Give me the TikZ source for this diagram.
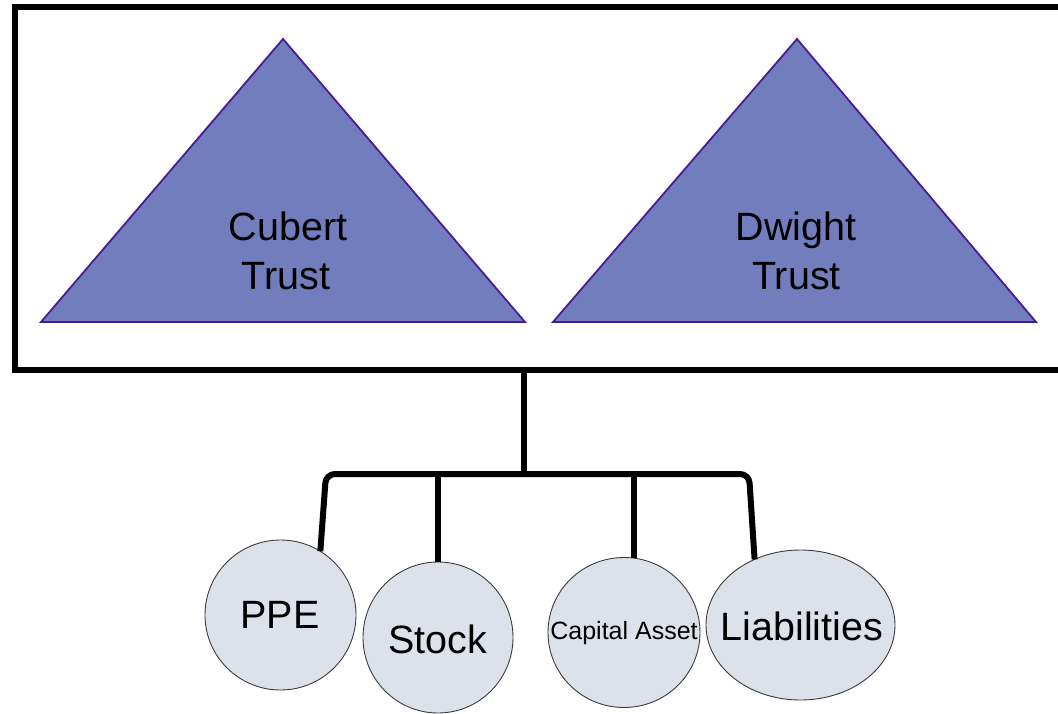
\documentclass[tikz,border=0pt]{standalone}
\usepackage{fontspec}
\setmainfont{Liberation Sans}
\usetikzlibrary{shapes.geometric}

\definecolor{trustfill}{RGB}{114,125,189}
\definecolor{trustline}{RGB}{72,28,150}
\definecolor{assetfill}{RGB}{221,226,234}
\definecolor{assetline}{RGB}{60,60,60}

\tikzset{
  frame/.style={draw=black, line width=6pt, rectangle, inner sep=0pt, outer sep=0pt},
  trust/.style={fill=trustfill, draw=trustline, line width=1.8pt, line join=miter},
  asset/.style={ellipse, draw=assetline, fill=assetfill, line width=0.9pt,
                inner sep=0pt, outer sep=0pt},
  conn/.style={draw=black, line width=6pt, rounded corners=9pt},
  biglbl/.style={font=\fontsize{39.5}{48}\selectfont, inner sep=0pt, anchor=base},
  smalllbl/.style={font=\fontsize{25}{30}\selectfont, inner sep=0pt, anchor=base},
}

\begin{document}
\begin{tikzpicture}[x=1pt, y=-1pt]
  \useasboundingbox (0,0) rectangle (1058,714);
  \clip (0,0) rectangle (1058,714);
  \fill[white] (0,0) rectangle (1058,714);

  % outer frame holding the two trusts
  \node[frame, minimum width=1055.5pt, minimum height=363pt] (frame) at (542.25,188.5) {};

  % the two trusts
  \draw[trust] (41,322) -- (283,39) -- (525,322) -- cycle;
  \draw[trust] (553,322) -- (797,39) -- (1036,322) -- cycle;
  \node[biglbl] (cubert) at (288,241) {Cubert};
  \node[biglbl] (cubertT) at (286,290) {Trust};
  \node[biglbl] (dwight) at (796,241) {Dwight};
  \node[biglbl] (dwightT) at (796.5,290) {Trust};

  % assets and liabilities
  \node[asset, minimum width=151pt, minimum height=150pt] (ppe) at (280.5,615) {};
  \node[asset, minimum width=150pt, minimum height=151pt] (stock) at (438,637.5) {};
  \node[asset, minimum width=152pt, minimum height=150pt] (cap) at (624,632.5) {};
  \node[asset, minimum width=189pt, minimum height=150pt] (liab) at (800.5,625) {};

  \node[biglbl] (ppeT) at (280,628) {PPE};
  \node[biglbl] (stockT) at (437.5,653) {Stock};
  \node[smalllbl] (capT) at (624,639) {Capital Asset};
  \node[biglbl] (liabT) at (802,640) {Liabilities};

  % connectors
  \coordinate (hub) at (524,474);
  \coordinate (busL) at (326,474);
  \coordinate (busR) at (749,474);
  \draw[conn] (frame.south -| hub) -- (hub);
  \draw[conn] (ppe.58) -- (busL) -- (busR) -- (liab.125);
  \draw[conn] (stock.north |- hub) -- (stock.north);
  \draw[conn] (cap.82 |- hub) -- (cap.82);
\end{tikzpicture}
\end{document}
